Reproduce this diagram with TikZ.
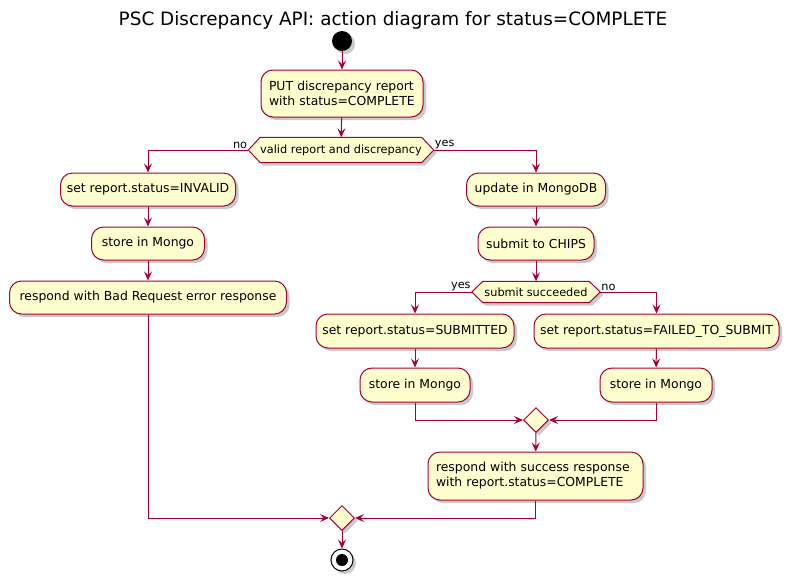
\documentclass[tikz,border=0pt]{standalone}
\usepackage{fontspec}
\setmainfont{DejaVu Sans}
\usetikzlibrary{arrows.meta,shapes.geometric,shadows}
\definecolor{umlred}{HTML}{A80036}
\definecolor{umlfill}{HTML}{FEFECE}
\hyphenpenalty=10000
\exhyphenpenalty=10000
\begin{document}
\begin{tikzpicture}[x=1pt,y=-1pt,
  shd/.style={drop shadow={shadow xshift=3pt,shadow yshift=-3pt,opacity=0.35,fill=black!60}},
  act/.style={draw=umlred,fill=umlfill,line width=1pt,rounded corners=12pt,align=left,
    font=\fontsize{12.4}{15}\selectfont,inner sep=0pt,shd},
  act2/.style={act,inner xsep=8pt,inner ysep=0pt},
  dectext/.style={inner sep=0pt,font=\fontsize{11.3}{13}\selectfont},
  decshape/.style={draw=umlred,fill=umlfill,line width=1pt,shd},
  merge/.style={diamond,draw=umlred,fill=umlfill,line width=1pt,inner sep=0pt,
    minimum width=25,minimum height=25,shd},
  lbl/.style={font=\fontsize{11.3}{13}\selectfont,inner sep=1pt},
  arr/.style={draw=umlred,line width=1pt,-{Stealth[length=9pt,width=8pt,inset=3.5pt]}}
]
\useasboundingbox (0,0) rectangle (788,582);
\node[font=\fontsize{18.4}{21}\selectfont] (title) at (393,20) {PSC Discrepancy API: action diagram for status=COMPLETE};
% start
\node[circle,fill=black,minimum size=20,inner sep=0pt,shd] (start) at (342,41) {};
\node[act2,text width=146,minimum height=47] (b1) at (342,93.5) {PUT discrepancy report\\with status=COMPLETE};
% decision 1
\node[dectext,minimum width=185,minimum height=25] (d1) at (341,150) {valid report and discrepancy};
\path[decshape] (d1.west) -- ([xshift=12]d1.north west) -- ([xshift=-12]d1.north east) -- (d1.east) -- ([xshift=-12]d1.south east) -- ([xshift=12]d1.south west) -- cycle;
\node[dectext] at (d1) {valid report and discrepancy};
% left branch
\node[act,minimum width=175,minimum height=33] (l1) at (148,189.5) {set report.status=INVALID};
\node[act,minimum width=113,minimum height=33] (l2) at (148,243.5) {store in Mongo};
\node[act,minimum width=277,minimum height=33] (l3) at (148,297.5) {respond with Bad Request error response};
% right branch
\node[act,minimum width=139,minimum height=33] (r1) at (536,189.5) {update in MongoDB};
\node[act,minimum width=116,minimum height=33] (r2) at (536,243.5) {submit to CHIPS};
\node[dectext,minimum width=128,minimum height=21] (d2) at (536,292) {submit succeeded};
\path[decshape] (d2.west) -- ([xshift=11]d2.north west) -- ([xshift=-11]d2.north east) -- (d2.east) -- ([xshift=-11]d2.south east) -- ([xshift=11]d2.south west) -- cycle;
\node[dectext] at (d2) {submit succeeded};
\node[act,minimum width=198,minimum height=34] (s1) at (415,331) {set report.status=SUBMITTED};
\node[act,minimum width=110,minimum height=34] (s2) at (415,385) {store in Mongo};
\node[act,minimum width=245,minimum height=34] (f1) at (656.5,331) {set report.status=FAILED\_TO\_SUBMIT};
\node[act,minimum width=112,minimum height=34] (f2) at (656,385) {store in Mongo};
\node[merge] (m1) at (536,420) {};
\node[act2,text width=199,minimum height=48] (r3) at (535.5,476) {respond with success response\\with report.status=COMPLETE};
\node[merge] (m2) at (342,518) {};
% end
\node[circle,draw=black,fill=white,line width=1pt,minimum size=22,inner sep=0pt,shd] (stop) at (342,560) {};
\node[circle,fill=black,minimum size=12,inner sep=0pt] (stopin) at (stop) {};
% connectors
\draw[arr] (start) -- (b1);
\draw[arr] (b1) -- (d1);
\draw[arr] (d1.west) -| (l1.north);
\draw[arr] (d1.east) -| (r1.north);
\node[lbl,anchor=south east] (no1) at (d1.west) {no};
\node[lbl,anchor=south west] (yes1) at (d1.east) {yes};
\draw[arr] (l1) -- (l2);
\draw[arr] (l2) -- (l3);
\draw[arr] (l3.south) |- (m2.west);
\draw[arr] (r1) -- (r2);
\draw[arr] (r2) -- (d2);
\draw[arr] (d2.west) -| (s1.north);
\draw[arr] (d2.east) -| (f1.north);
\node[lbl,anchor=south east] (yes2) at (d2.west) {yes};
\node[lbl,anchor=south west] (no2) at (d2.east) {no};
\draw[arr] (s1) -- (s2);
\draw[arr] (f1) -- (f2);
\draw[arr] (s2.south) |- (m1.west);
\draw[arr] (f2.south) |- (m1.east);
\draw[arr] (m1) -- (r3);
\draw[arr] (r3.south) |- (m2.east);
\draw[arr] (m2) -- (stop);
\end{tikzpicture}
\end{document}
